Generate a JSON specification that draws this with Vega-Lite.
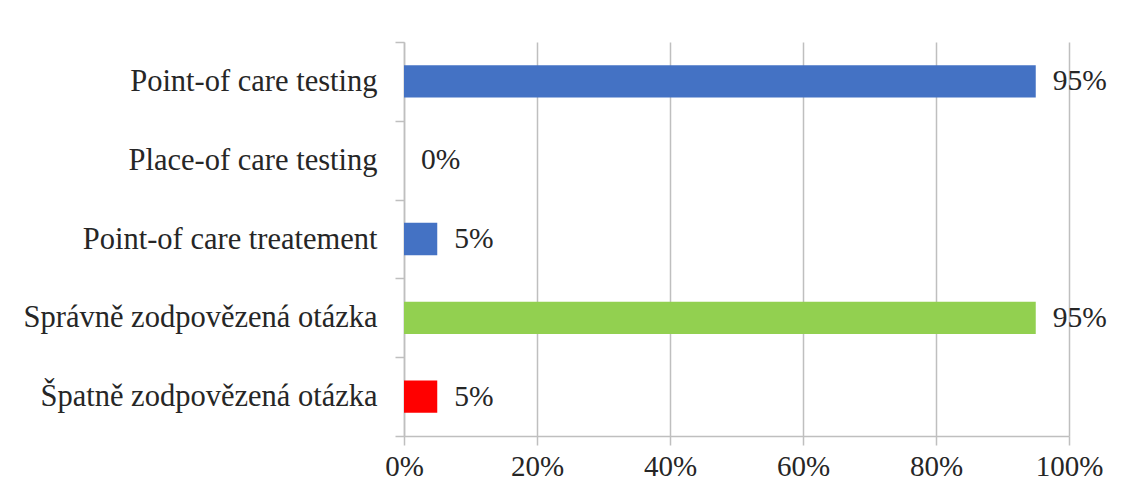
{
  "$schema": "https://vega.github.io/schema/vega-lite/v6.json",
  "autosize": {"type": "none"},
  "width": 665,
  "height": 394,
  "padding": {"left": 404, "top": 42, "right": 52, "bottom": 62},
  "background": "white",
  "config": {
    "view": {"stroke": null},
    "font": "Liberation Serif",
    "axis": {"labelFont": "Liberation Serif", "labelColor": "#262626", "labelFontSize": 29, "labelLimit": 0}
  },
  "data": {
    "values": [
      {"cat": "Point-of care testing", "value": 0.95},
      {"cat": "Place-of care testing", "value": 0.0},
      {"cat": "Point-of care treatement", "value": 0.05},
      {"cat": "Správně zodpovězená otázka", "value": 0.95},
      {"cat": "Špatně zodpovězená otázka", "value": 0.05}
    ]
  },
  "encoding": {
    "y": {
      "field": "cat",
      "type": "nominal",
      "sort": null,
      "scale": {"paddingInner": 0, "paddingOuter": 0},
      "axis": {
        "title": null,
        "domainColor": "#BFBFBF",
        "domainWidth": 1.5,
        "tickColor": "#BFBFBF",
        "tickWidth": 1.5,
        "tickSize": 9,
        "tickBand": "extent",
        "labelPadding": 18,
        "labelLimit": 0,
        "labelFontSize": 30.5,
        "grid": false
      }
    },
    "x": {
      "field": "value",
      "type": "quantitative",
      "scale": {"domain": [0, 1], "nice": false},
      "axis": {
        "title": null,
        "format": ".0%",
        "values": [0, 0.2, 0.4, 0.6, 0.8, 1],
        "grid": true,
        "gridColor": "#BFBFBF",
        "gridWidth": 1.5,
        "domainColor": "#BFBFBF",
        "domainWidth": 1.5,
        "tickColor": "#BFBFBF",
        "tickWidth": 1.5,
        "tickSize": 9,
        "labelPadding": 7,
        "labelFontSize": 29,
        "labelFlush": false
      }
    }
  },
  "layer": [
    {
      "mark": {"type": "bar", "height": {"band": 0.41}},
      "encoding": {
        "color": {
          "field": "cat",
          "type": "nominal",
          "legend": null,
          "scale": {
            "domain": ["Point-of care testing", "Place-of care testing", "Point-of care treatement", "Správně zodpovězená otázka", "Špatně zodpovězená otázka"],
            "range": ["#4472C4", "#4472C4", "#4472C4", "#92D050", "#FF0000"]
          }
        }
      }
    },
    {
      "mark": {"type": "text", "align": "left", "baseline": "middle", "dx": 17, "fontSize": 29.5, "color": "#262626", "font": "Liberation Serif"},
      "encoding": {
        "text": {"field": "value", "type": "quantitative", "format": ".0%"}
      }
    }
  ]
}
